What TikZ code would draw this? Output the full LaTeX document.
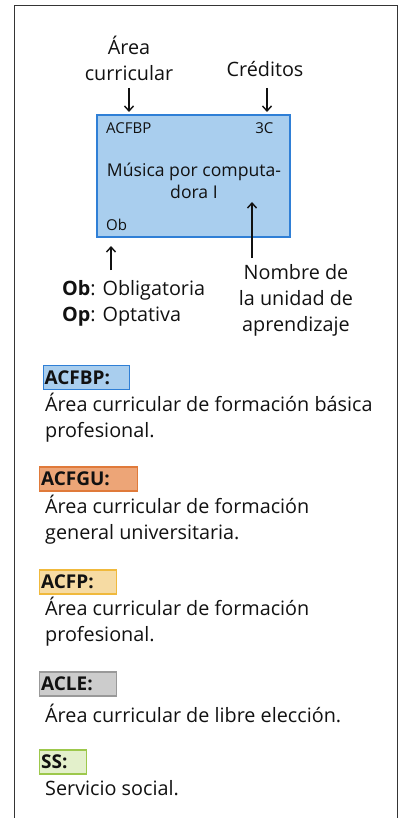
\documentclass[tikz,border=0pt]{standalone}
\usepackage{fontspec}
\setmainfont{Open Sans}
\usetikzlibrary{arrows.meta}
\definecolor{bluefill}{HTML}{A9CEEE}
\definecolor{blueline}{HTML}{2F7FD6}
\definecolor{orangefill}{HTML}{EDA577}
\definecolor{orangeline}{HTML}{E07A3A}
\definecolor{yellowfill}{HTML}{F6DBA3}
\definecolor{yellowline}{HTML}{F0B93C}
\definecolor{grayfill}{HTML}{CCCCCC}
\definecolor{grayline}{HTML}{999999}
\definecolor{greenfill}{HTML}{E3F0CB}
\definecolor{greenline}{HTML}{9DC84C}
\definecolor{ink}{HTML}{111111}
\tikzset{
  frame/.style={line width=1.6pt, draw=ink!85},
  big/.style={font=\fontsize{19.8}{26}\selectfont, inner sep=0pt, text=ink},
  mid/.style={font=\fontsize{17.6}{22}\selectfont, inner sep=0pt, text=ink},
  small/.style={font=\fontsize{15}{16}\selectfont, inner sep=0pt, text=ink},
  arr/.style={line width=1.4pt, draw=ink, -{Straight Barb[length=5pt,width=9pt]}},
  unitbox/.style={draw=blueline, fill=bluefill, line width=2pt, minimum width=193pt, minimum height=121pt, inner sep=0pt},
  tag/.style={line width=1.2pt, inner xsep=1.5pt, inner ysep=0pt, minimum height=24pt, anchor=west, align=left, text=ink, font=\fontsize{19}{22}\bfseries\selectfont},
  desc/.style={big, anchor=west, align=left},
}
\begin{document}
\begin{tikzpicture}[x=1pt,y=-1pt]
\useasboundingbox (0,0) rectangle (410,818);
\draw[frame] (14.5,818) -- (14.5,5.5) -- (397.5,5.5) -- (397.5,818);

% unit box
\node[unitbox] (unit) at (193.5,176) {};
\node[small, anchor=west] (acfbpin) at (106,128) {ACFBP};
\node[small, anchor=east] (cred3c) at (273.5,128) {3C};
\node[mid, align=center] (nombreunit) at (194,181) {Música por computa-\\dora I};
\node[small, anchor=west] (obin) at (106,225) {Ob};

% labels
\node[big, align=center] (area) at (129,58) {Área\\curricular};
\node[big] (cred) at (265,69) {Créditos};
\node[big, align=left, anchor=west] (oblig) at (62,303) {\textbf{Ob}: Obligatoria\\\textbf{Op}: Optativa};
\node[big, align=center] (nombre) at (296,300) {Nombre de\\la unidad de\\aprendizaje};

% arrows
\coordinate (a1s) at (129,88); \coordinate (a1e) at (129,112);
\coordinate (a2s) at (267,88); \coordinate (a2e) at (267,112);
\coordinate (a3s) at (111,270); \coordinate (a3e) at (111,246);
\coordinate (a4s) at (252,258); \coordinate (a4e) at (252,202);
\draw[arr] (a1s) -- (a1e);
\draw[arr] (a2s) -- (a2e);
\draw[arr] (a3s) -- (a3e);
\draw[arr] (a4s) -- (a4e);

% legend
\node[tag, draw=blueline, fill=bluefill, text width=83pt] (tagA) at (42.5,377.5) {ACFBP:};
\node[desc] (descA) at (45,417.5) {Área curricular de formación básica\\profesional.};

\node[tag, draw=orangeline, fill=orangefill, text width=94.5pt] (tagB) at (39,479) {ACFGU:};
\node[desc] (descB) at (45,520) {Área curricular de formación\\general universitaria.};

\node[tag, draw=yellowline, fill=yellowfill, text width=73.5pt] (tagC) at (39,582) {ACFP:};
\node[desc] (descC) at (45,622) {Área curricular de formación\\profesional.};

\node[tag, draw=grayline, fill=grayfill, text width=73.5pt] (tagD) at (39,684) {ACLE:};
\node[desc] (descD) at (45,713) {Área curricular de libre elección.};

\node[tag, draw=greenline, fill=greenfill, text width=44pt] (tagE) at (39,762) {SS:};
\node[desc] (descE) at (45,788) {Servicio social.};
\end{tikzpicture}
\end{document}
